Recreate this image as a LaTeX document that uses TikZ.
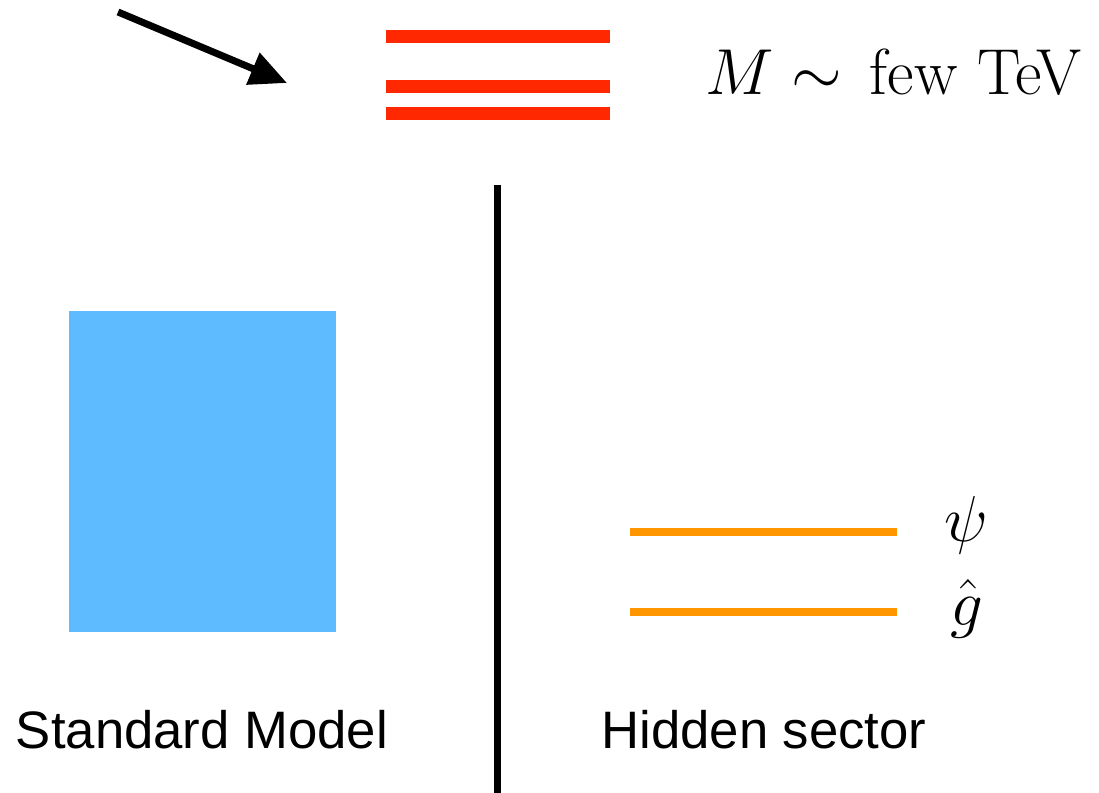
\documentclass[tikz,border=0pt]{standalone}
\usepackage{fix-cm}
\usepackage{fontspec}
\setsansfont{Liberation Sans}
\usetikzlibrary{arrows.meta}
\definecolor{heavyred}{RGB}{255,40,0}
\definecolor{smblue}{RGB}{94,187,255}
\definecolor{hidorange}{RGB}{255,150,0}
\begin{document}
\begin{tikzpicture}[x=0.02cm,y=-0.02cm,line join=round,
	heavy/.style={draw=heavyred,line width=2.6mm},
	hidden/.style={draw=hidorange,line width=1.6mm},
	mathlbl/.style={anchor=base west,inner sep=0pt,font=\fontsize{37}{42}\selectfont},
	sectorlbl/.style={anchor=base,inner sep=0pt,font=\sffamily\fontsize{30}{36}\selectfont}]
	\useasboundingbox (0,0) rectangle (1099,793);
	\path 
	(118,12) coordinate (tail)
	(287,83) coordinate (tip)
	(497,185) coordinate (top)
	(497,793) coordinate (bottom);
	% heavy states
	\foreach \y/\n in {37/a, 87/b, 114/c}
	\draw[heavy] (386,\y) coordinate (h\n) -- (610,\y);
	\node[mathlbl] (mass) at (705,95) {$M \sim$\hspace{.12em} few TeV};
	\draw[line width=1.4mm,-{Triangle[length=7.4mm,width=6.6mm]}] (tail) -- (tip);
	% divider
	\draw[line width=1.4mm] (top) -- (bottom);
	% visible side
	\fill[smblue] (69,311) rectangle (336,632);
	\node[sectorlbl] (sm) at (202,748) {Standard Model};
	% hidden side
	\draw[hidden] (630,532) -- (897,532);
	\draw[hidden] (630,612) -- (897,612);
	\node[mathlbl] (psi) at (944,542) {$\psi$};
	\node[mathlbl] (ghat) at (950,625) {$\hat{g}$};
	\node[sectorlbl] (hs) at (764,748) {Hidden sector};
\end{tikzpicture}
\end{document}
